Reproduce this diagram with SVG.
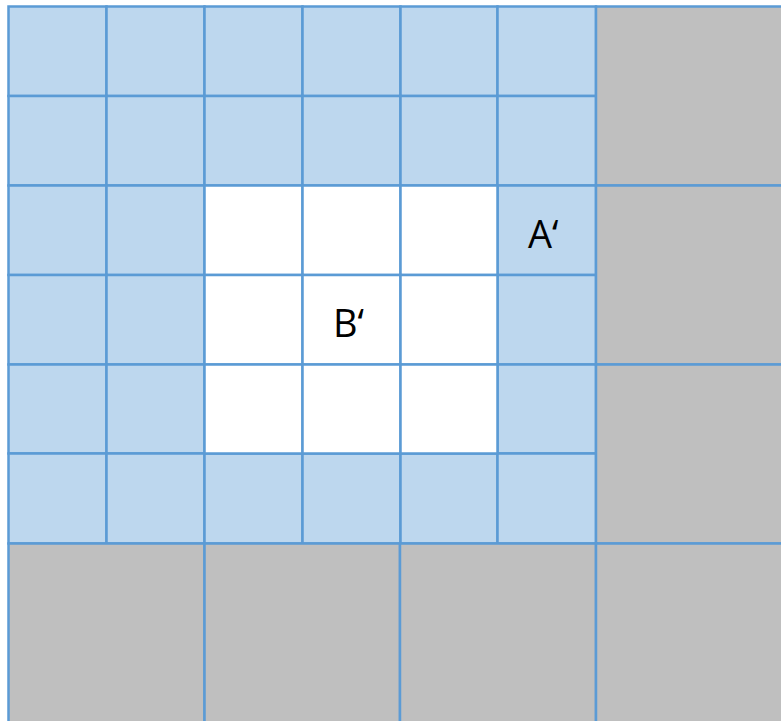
<svg xmlns="http://www.w3.org/2000/svg" width="781" height="721" viewBox="0 0 781 721">
<style>
.b{fill:#BDD7EE;stroke:#5B9BD5;stroke-width:2.5}
.w{fill:#FFFFFF;stroke:#5B9BD5;stroke-width:2.5}
.g{fill:#BFBFBF;stroke:#5B9BD5;stroke-width:2.5}
.t{font-family:"Open Sans","Liberation Sans",sans-serif;font-size:38px;fill:#000}
</style>
<rect width="781" height="721" fill="#FFFFFF"/>
<g id="blue">
<rect class="b" x="8.5" y="6.5" width="98" height="89.5"/>
<rect class="b" x="106.5" y="6.5" width="98" height="89.5"/>
<rect class="b" x="204.5" y="6.5" width="98" height="89.5"/>
<rect class="b" x="302.5" y="6.5" width="98" height="89.5"/>
<rect class="b" x="400.5" y="6.5" width="97" height="89.5"/>
<rect class="b" x="497.5" y="6.5" width="98.5" height="89.5"/>
<rect class="b" x="8.5" y="96" width="98" height="89.5"/>
<rect class="b" x="106.5" y="96" width="98" height="89.5"/>
<rect class="b" x="204.5" y="96" width="98" height="89.5"/>
<rect class="b" x="302.5" y="96" width="98" height="89.5"/>
<rect class="b" x="400.5" y="96" width="97" height="89.5"/>
<rect class="b" x="497.5" y="96" width="98.5" height="89.5"/>
<rect class="b" x="8.5" y="185.5" width="98" height="89.5"/>
<rect class="b" x="106.5" y="185.5" width="98" height="89.5"/>
<rect class="b" x="497.5" y="185.5" width="98.5" height="89.5"/>
<rect class="b" x="8.5" y="275" width="98" height="89.5"/>
<rect class="b" x="106.5" y="275" width="98" height="89.5"/>
<rect class="b" x="497.5" y="275" width="98.5" height="89.5"/>
<rect class="b" x="8.5" y="364.5" width="98" height="89"/>
<rect class="b" x="106.5" y="364.5" width="98" height="89"/>
<rect class="b" x="497.5" y="364.5" width="98.5" height="89"/>
<rect class="b" x="8.5" y="453.5" width="98" height="90"/>
<rect class="b" x="106.5" y="453.5" width="98" height="90"/>
<rect class="b" x="204.5" y="453.5" width="98" height="90"/>
<rect class="b" x="302.5" y="453.5" width="98" height="90"/>
<rect class="b" x="400.5" y="453.5" width="97" height="90"/>
<rect class="b" x="497.5" y="453.5" width="98.5" height="90"/>
</g>
<g id="white">
<rect class="w" x="204.5" y="185.5" width="98" height="89.5"/>
<rect class="w" x="302.5" y="185.5" width="98" height="89.5"/>
<rect class="w" x="400.5" y="185.5" width="97" height="89.5"/>
<rect class="w" x="204.5" y="275" width="98" height="89.5"/>
<rect class="w" x="302.5" y="275" width="98" height="89.5"/>
<rect class="w" x="400.5" y="275" width="97" height="89.5"/>
<rect class="w" x="204.5" y="364.5" width="98" height="89"/>
<rect class="w" x="302.5" y="364.5" width="98" height="89"/>
<rect class="w" x="400.5" y="364.5" width="97" height="89"/>
</g>
<g id="gray">
<rect class="g" x="596" y="6.5" width="190" height="179"/>
<rect class="g" x="596" y="185.5" width="190" height="179"/>
<rect class="g" x="596" y="364.5" width="190" height="179"/>
<rect class="g" x="8.5" y="543.5" width="196" height="185"/>
<rect class="g" x="204.5" y="543.5" width="195.5" height="185"/>
<rect class="g" x="400" y="543.5" width="196" height="185"/>
<rect class="g" x="596" y="543.5" width="190" height="185"/>
</g>
<g id="labels">
<text class="t" x="528" y="248">A‘</text>
<text class="t" x="333" y="337">B‘</text>
</g>
</svg>
